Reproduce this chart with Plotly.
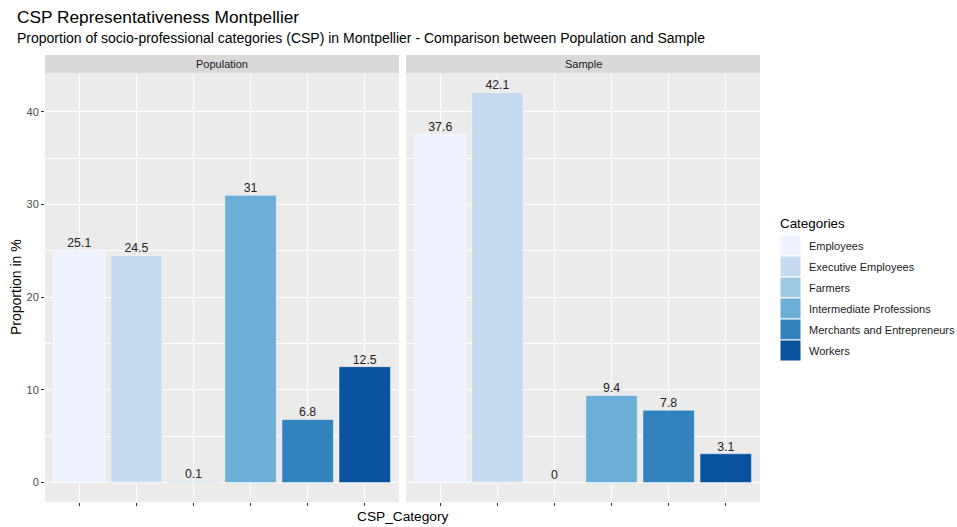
import plotly.graph_objects as go
from plotly.subplots import make_subplots

# Data
categories = ["Employees", "Executive Employees", "Farmers",
              "Intermediate Professions", "Merchants and Entrepreneurs", "Workers"]
population = [25.1, 24.5, 0.1, 31, 6.8, 12.5]
sample = [37.6, 42.1, 0, 9.4, 7.8, 3.1]
groups = ["Population", "Sample"]
colors = ["#EFF3FF", "#C6DBEF", "#9ECAE1", "#6BAED6", "#3182BD", "#08519C"]

W, H = 957, 527
ML, MR, MT, MB = 45, 197, 55, 25
PW, PH = W - ML - MR, H - MT - MB
STRIP = 18
ydom_top = 1 - STRIP / PH


def px_x(p):
    return (p - ML) / PW


def px_y(p):
    return (H - MB - p) / PH


FONT = "Liberation Sans, Arial, sans-serif"

fig = make_subplots(rows=1, cols=2, shared_yaxes=True, horizontal_spacing=7 / PW)

xpos = list(range(1, len(categories) + 1))
for col, vals in enumerate([population, sample], start=1):
    for i, (cat, v) in enumerate(zip(categories, vals)):
        fig.add_trace(go.Bar(x=[xpos[i]], y=[v], width=0.9, name=cat,
                             marker=dict(color=colors[i],
                                         line=dict(color="rgba(255,255,255,0.45)", width=1)),
                             showlegend=False, hoverinfo="x+y"), row=1, col=col)
    fig.add_trace(go.Scatter(x=xpos, y=vals, mode="text",
                             text=[f"{v:g}" for v in vals], textposition="top center",
                             textfont=dict(family=FONT, size=12.3, color="#222222"),
                             showlegend=False, hoverinfo="skip", cliponaxis=False),
                  row=1, col=col)

for col in (1, 2):
    fig.update_xaxes(range=[0.4, 6.6], tickvals=xpos, ticktext=[""] * 6,
                     showgrid=True, gridcolor="white", gridwidth=1.07,
                     ticks="outside", ticklen=3, tickcolor="#333333", tickwidth=1,
                     zeroline=False, showline=False, row=1, col=col)
    fig.update_yaxes(range=[-2.105, 44.205], tickvals=[0, 10, 20, 30, 40],
                     showgrid=True, gridcolor="white", gridwidth=1.07,
                     minor=dict(dtick=5, tick0=0, showgrid=True, gridcolor="white", gridwidth=0.5),
                     zeroline=False, showline=False, domain=[0, ydom_top],
                     row=1, col=col)
fig.update_yaxes(ticks="outside", ticklen=3, tickcolor="#333333",
                 tickfont=dict(family=FONT, size=11, color="#4D4D4D"), row=1, col=1)

shapes = []
annotations = []
# facet strips
for k, g in enumerate(groups):
    xd = fig.layout["xaxis" if k == 0 else "xaxis2"].domain
    shapes.append(dict(type="rect", xref="paper", yref="paper", x0=xd[0], x1=xd[1],
                       y0=ydom_top, y1=1, fillcolor="#D9D9D9", line=dict(width=0), layer="below"))
    annotations.append(dict(text=g, xref="paper", yref="paper", x=(xd[0] + xd[1]) / 2,
                            y=(ydom_top + 1) / 2, showarrow=False, xanchor="center", yanchor="middle",
                            font=dict(family=FONT, size=11, color="#1A1A1A")))

# subtitle
annotations.append(dict(text="Proportion of socio-professional categories (CSP) in Montpellier - Comparison between Population and Sample",
                        xref="paper", yref="paper", x=px_x(15), y=px_y(38), xanchor="left", yanchor="middle",
                        showarrow=False, font=dict(family=FONT, size=14, color="black")))
# axis titles
annotations.append(dict(text="CSP_Category", xref="paper", yref="paper", x=px_x(402), y=px_y(516),
                        xanchor="center", yanchor="middle", showarrow=False,
                        font=dict(family=FONT, size=13.7, color="black")))
annotations.append(dict(text="Proportion in %", xref="paper", yref="paper", x=px_x(16), y=px_y(287),
                        xanchor="center", yanchor="middle", textangle=-90, showarrow=False,
                        font=dict(family=FONT, size=14, color="black")))

# legend
annotations.append(dict(text="Categories", xref="paper", yref="paper", x=px_x(778), y=px_y(223),
                        xanchor="left", yanchor="middle", showarrow=False,
                        font=dict(family=FONT, size=13.4, color="black")))
KEY = 21
for i, (cat, c) in enumerate(zip(categories, colors)):
    top = 235 + i * KEY
    shapes.append(dict(type="rect", xref="paper", yref="paper", x0=px_x(780), x1=px_x(801),
                       y0=px_y(top + KEY), y1=px_y(top), fillcolor=c,
                       line=dict(color="white", width=1)))
    annotations.append(dict(text=cat, xref="paper", yref="paper", x=px_x(807), y=px_y(top + KEY / 2),
                            xanchor="left", yanchor="middle", showarrow=False,
                            font=dict(family=FONT, size=11, color="#1A1A1A")))

fig.update_layout(
    width=W, height=H,
    margin=dict(l=ML, r=MR, t=MT, b=MB),
    paper_bgcolor="white", plot_bgcolor="#EBEBEB",
    barmode="overlay", showlegend=False,
    title=dict(text="CSP Representativeness Montpellier", x=17 / W, xanchor="left",
               y=1 - 17 / H, yanchor="middle", xref="container", yref="container",
               font=dict(family=FONT, size=17.3, color="black")),
    shapes=shapes, annotations=annotations,
    font=dict(family=FONT),
)

fig.write_html("out.html")
